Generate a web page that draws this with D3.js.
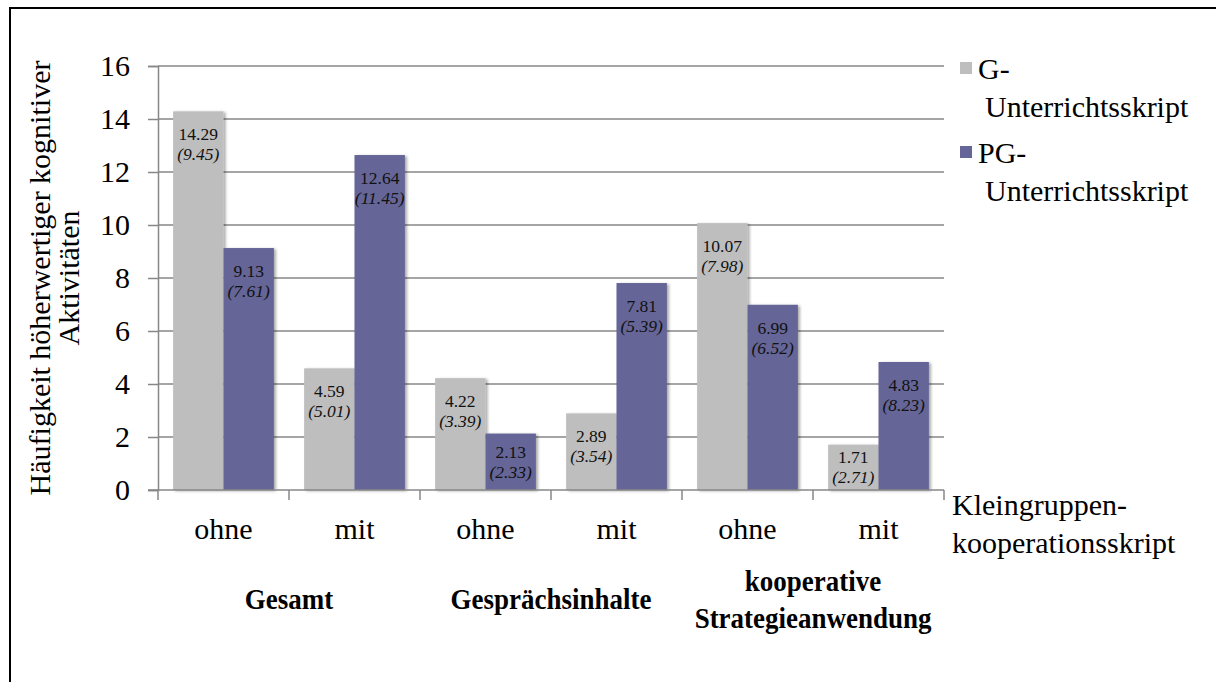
<!DOCTYPE html>
<html>
<head>
<meta charset="utf-8">
<script src="https://cdn.jsdelivr.net/npm/d3@7"></script>
<style>
	body { margin: 0; background: #fff; }
	svg { display: block; }
	svg text { font-family: 'Liberation Serif', 'Times New Roman', serif; }
</style>
</head>
<body>
<div id="chart"></div>
<script>
var groups = ['Gesamt', 'Gesprächsinhalte', 'kooperative Strategieanwendung'];
var conditions = ['ohne', 'mit'];
var seriesNames = ['G-Unterrichtsskript', 'PG-Unterrichtsskript'];
// means per category (ohne/mit for each group)
var gMeans = [14.29, 4.59, 4.22, 2.89, 10.07, 1.71];
var gSDs = [9.45, 5.01, 3.39, 3.54, 7.98, 2.71];
var pgMeans = [9.13, 12.64, 2.13, 7.81, 6.99, 4.83];
var pgSDs = [7.61, 11.45, 2.33, 5.39, 6.52, 8.23];
var yTicks = [0, 2, 4, 6, 8, 10, 12, 14, 16];

var width = 1216,
	height = 682,
	margin = {
		left: 158,
		right: 272,
		top: 66,
		bottom: 192
	};

var colors = ['#bebebe', '#656597'];
var serif = 'Liberation Serif, Times New Roman, serif';

var categories = [];
groups.forEach(function(g, gi) {
	conditions.forEach(function(c, ci) {
		categories.push({id: gi + '-' + c, group: g, cond: c, idx: gi * 2 + ci});
	});
});

var data = categories.map(function(c, i) {
	return {
		cat: c,
		values: [
			{key: 0, mean: gMeans[i], sd: gSDs[i]},
			{key: 1, mean: pgMeans[i], sd: pgSDs[i]}
		]
	};
});

var svg = d3.select('#chart').append('svg')
	.attr('width', width)
	.attr('height', height)
	.attr('font-family', serif);

var defs = svg.append('defs');
var shadow = defs.append('filter')
	.attr('id', 'shadow')
	.attr('x', '-10%').attr('y', '-10%')
	.attr('width', '130%').attr('height', '130%');
shadow.append('feGaussianBlur').attr('in', 'SourceAlpha').attr('stdDeviation', 1.5);
shadow.append('feOffset').attr('dx', 1.5).attr('dy', 1).attr('result', 'off');
shadow.append('feComponentTransfer').append('feFuncA').attr('type', 'linear').attr('slope', 0.35);
var merge = shadow.append('feMerge');
merge.append('feMergeNode');
merge.append('feMergeNode').attr('in', 'SourceGraphic');

// frame
svg.append('rect')
	.attr('x', 10)
	.attr('y', 8)
	.attr('width', width + 20)
	.attr('height', height + 20)
	.attr('fill', 'none')
	.attr('stroke', '#000')
	.attr('stroke-width', 2);

var x = d3.scaleBand()
	.domain(categories.map(function(c) { return c.id; }))
	.range([margin.left, width - margin.right]);

var xSub = d3.scaleBand()
	.domain([0, 1])
	.range([0, x.bandwidth()])
	.paddingOuter(0.3);

var y = d3.scaleLinear()
	.domain([0, 16])
	.range([height - margin.bottom, margin.top]);

var y0 = y(0);
var xRight = width - margin.right;

// gridlines
svg.append('g')
	.selectAll('line')
	.data(yTicks.filter(function(d) { return d > 0; }))
	.enter().append('line')
	.attr('x1', margin.left)
	.attr('x2', xRight)
	.attr('y1', function(d) { return y(d); })
	.attr('y2', function(d) { return y(d); })
	.attr('stroke', '#878787')
	.attr('stroke-width', 1.5);

// y axis
var yAxis = svg.append('g')
	.attr('transform', 'translate(' + margin.left + ',0)')
	.call(d3.axisLeft(y).tickValues(yTicks).tickSize(10).tickPadding(18));
yAxis.attr('font-family', serif);
yAxis.select('.domain').attr('stroke', '#878787').attr('stroke-width', 1.5);
yAxis.selectAll('.tick line').attr('stroke', '#878787').attr('stroke-width', 1.5);
yAxis.selectAll('.tick text')
	.attr('font-size', 30)
	.attr('fill', '#000')
	.attr('dy', '0.33em');

// bars
var cat = svg.append('g').selectAll('.cat')
	.data(data)
	.enter().append('g')
	.attr('class', 'cat')
	.attr('transform', function(d) { return 'translate(' + x(d.cat.id) + ',0)'; });

cat.selectAll('rect')
	.data(function(d) { return d.values; })
	.enter().append('rect')
	.attr('x', function(d) { return xSub(d.key); })
	.attr('width', xSub.bandwidth())
	.attr('y', function(d) { return y(d.mean); })
	.attr('height', function(d) { return y0 - y(d.mean); })
	.attr('fill', function(d) { return colors[d.key]; })
	.attr('filter', 'url(#shadow)');

// labels sit near the top of the bar, or centred when the bar is short
function labelCenter(d) {
	var top = y(d.mean);
	return Math.min(top + 33, (top + y0) / 2);
}

var labels = cat.selectAll('.lbl')
	.data(function(d) { return d.values; })
	.enter().append('text')
	.attr('class', 'lbl')
	.attr('text-anchor', 'middle')
	.attr('font-size', 17.5)
	.attr('fill', '#111');

labels.append('tspan')
	.attr('x', function(d) { return xSub(d.key) + xSub.bandwidth() / 2; })
	.attr('y', function(d) { return labelCenter(d) - 4; })
	.text(function(d) { return d.mean.toFixed(2); });

labels.append('tspan')
	.attr('x', function(d) { return xSub(d.key) + xSub.bandwidth() / 2; })
	.attr('y', function(d) { return labelCenter(d) + 16; })
	.attr('font-style', 'italic')
	.text(function(d) { return '(' + d.sd.toFixed(2) + ')'; });

// x axis
var xAxisLine = svg.append('g');
xAxisLine.append('line')
	.attr('x1', margin.left - 10)
	.attr('x2', xRight)
	.attr('y1', y0)
	.attr('y2', y0)
	.attr('stroke', '#878787')
	.attr('stroke-width', 1.5);

var boundaries = categories.map(function(c) { return x(c.id); }).concat([xRight]);
xAxisLine.selectAll('.xt')
	.data(boundaries)
	.enter().append('line')
	.attr('x1', function(d) { return d; })
	.attr('x2', function(d) { return d; })
	.attr('y1', y0)
	.attr('y2', y0 + 10)
	.attr('stroke', '#878787')
	.attr('stroke-width', 1.5);

svg.append('g').selectAll('text')
	.data(categories)
	.enter().append('text')
	.attr('x', function(d) { return x(d.id) + x.bandwidth() / 2; })
	.attr('y', 539)
	.attr('text-anchor', 'middle')
	.attr('font-size', 30)
	.text(function(d) { return d.cond; });

// group labels
var groupLines = [['Gesamt'], ['Gesprächsinhalte'], ['kooperative', 'Strategieanwendung']];
svg.append('g').selectAll('text')
	.data(groupLines)
	.enter().append('text')
	.attr('transform', function(d, i) {
		var cx = (x(categories[i * 2].id) + x(categories[i * 2 + 1].id) + x.bandwidth()) / 2;
		return 'translate(' + cx + ',0) scale(0.93,1)';
	})
	.attr('text-anchor', 'middle')
	.attr('font-size', 29)
	.attr('font-weight', 700)
	.attr('font-family', serif)
	.each(function(d) {
		var t = d3.select(this);
		var start = d.length === 1 ? 609 : 591;
		d.forEach(function(line, li) {
			t.append('tspan')
				.attr('x', 0)
				.attr('y', start + li * 37)
				.text(line);
		});
	});

// x axis title
var xTitle = svg.append('text')
	.attr('font-size', 30);
xTitle.append('tspan').attr('x', 952).attr('y', 515).text('Kleingruppen-');
xTitle.append('tspan').attr('x', 952).attr('y', 553).text('kooperationsskript');

// y axis title
var yTitle = svg.append('text')
	.attr('transform', 'translate(0,' + ((margin.top + y0) / 2) + ') rotate(-90)')
	.attr('text-anchor', 'middle')
	.attr('font-size', 30);
yTitle.append('tspan').attr('x', 0).attr('y', 50).text('Häufigkeit höherwertiger kognitiver');
yTitle.append('tspan').attr('x', 0).attr('y', 79).text('Aktivitäten');

// legend
var legendLines = [['G-', 'Unterrichtsskript'], ['PG-', 'Unterrichtsskript']];
var legend = svg.append('g').selectAll('.legend')
	.data(seriesNames)
	.enter().append('g')
	.attr('class', 'legend')
	.attr('transform', function(d, i) { return 'translate(960,' + (62 + i * 84) + ')'; });

legend.append('rect')
	.attr('width', 12)
	.attr('height', 12)
	.attr('fill', function(d, i) { return colors[i]; });

legend.append('text')
	.attr('font-size', 30)
	.each(function(d, i) {
		var t = d3.select(this);
		legendLines[i].forEach(function(line, li) {
			t.append('tspan')
				.attr('x', li === 0 ? 18 : 25)
				.attr('y', 17 + li * 38)
				.text(line);
		});
	});
</script>
</body>
</html>
